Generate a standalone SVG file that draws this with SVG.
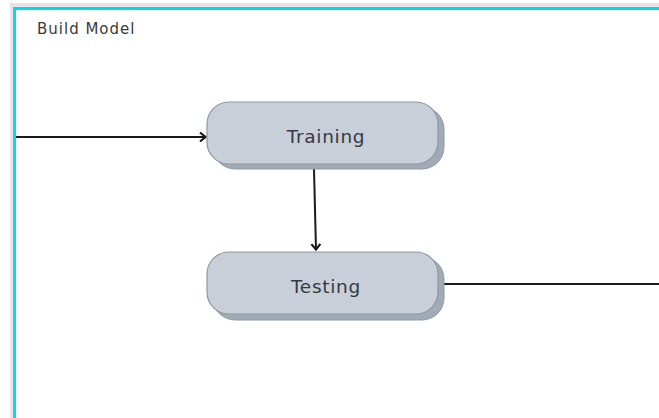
<svg xmlns="http://www.w3.org/2000/svg" width="659" height="418" viewBox="0 0 659 418">
<defs>
<style>
.shadow{fill:#a2abb5;stroke:#8f99a3;stroke-width:1}
.box{fill:#c8cfd8;stroke:#8e98a2;stroke-width:1.2}
.lbl{font-family:"DejaVu Sans","Open Sans",sans-serif;font-size:18.5px;letter-spacing:0.7px;fill:#353a42;text-anchor:middle}
.edge{fill:none;stroke:#1a1a1a;stroke-width:2}
</style>
<marker id="arr" viewBox="0 0 12 12" refX="11" refY="6" markerWidth="12" markerHeight="12" orient="auto" markerUnits="userSpaceOnUse">
<path d="M5,1.5 L10.5,6 L5,10.5" fill="none" stroke="#1a1a1a" stroke-width="2.2"/>
</marker>
</defs>
<rect x="0" y="0" width="659" height="418" fill="#ffffff"/>
<rect x="10" y="3" width="649" height="415" fill="#e4e4ea"/>
<rect x="14.5" y="8.5" width="660" height="420" fill="#ffffff" stroke="#00dde3" stroke-width="3"/>
<text x="37" y="34" font-family="'DejaVu Sans','Open Sans',sans-serif" font-size="15" letter-spacing="1" fill="#3a3a3a">Build Model</text>
<g id="connectors">
<path class="edge" d="M16,137 L206,137" marker-end="url(#arr)"/>
<path class="edge" d="M314,169 L316,250" marker-end="url(#arr)"/>
<path class="edge" d="M444,284 L659,284"/>
</g>
<g id="training">
<rect class="shadow" x="213" y="107" width="231" height="62" rx="22"/>
<rect class="box" x="207" y="102" width="231" height="62" rx="22"/>
<text class="lbl" x="326" y="143">Training</text>
</g>
<g id="testing">
<rect class="shadow" x="213" y="257" width="231" height="63" rx="22"/>
<rect class="box" x="207" y="252" width="231" height="62" rx="22"/>
<text class="lbl" x="326" y="293">Testing</text>
</g>
</svg>
